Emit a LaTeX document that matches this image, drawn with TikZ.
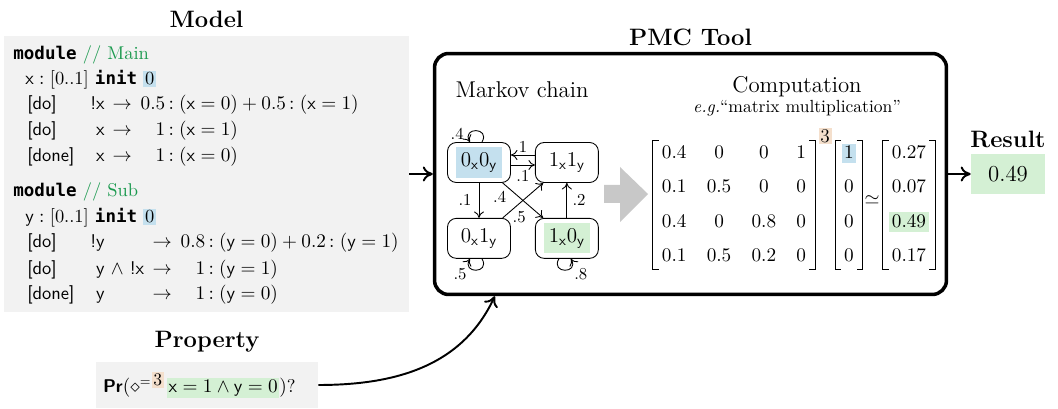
\documentclass[tikz,border=0pt]{standalone}
\usepackage{amsmath,amssymb}
\usepackage{fontspec}
\setmonofont[Scale=0.95]{DejaVu Sans Mono}
\usetikzlibrary{arrows.meta,positioning,matrix,calc}
\definecolor{codegray}{HTML}{F2F2F2}
\definecolor{hlblue}{HTML}{C4E0EE}
\definecolor{hlgreen}{HTML}{D4F0D4}
\definecolor{hlpeach}{HTML}{F4DFCC}
\definecolor{commentgreen}{HTML}{1B9A4F}
\definecolor{arrowgray}{HTML}{C8C8C8}
\newcommand\kw[1]{\texttt{\bfseries #1}}
\newcommand\cmt[1]{{\color{commentgreen}// #1}}
\newcommand\hl[3][1pt]{{\setlength\fboxsep{#1}\colorbox{#2}{#3}}}
\newcommand\mbrackets[1]{%
  \draw[bracket] ([shift={(0,3)}]#1.north west) -- ([shift={(-6,3)}]#1.north west)
    -- ([shift={(-6,-3)}]#1.south west) -- ([shift={(0,-3)}]#1.south west);
  \draw[bracket] ([shift={(0,3)}]#1.north east) -- ([shift={(6,3)}]#1.north east)
    -- ([shift={(6,-3)}]#1.south east) -- ([shift={(0,-3)}]#1.south east);}

\begin{document}
\begin{tikzpicture}[
  x=0.02cm, y=0.02cm,
  font=\fontsize{10.5}{12.6}\selectfont,
  heading/.style={font=\fontsize{13.5}{16}\selectfont\bfseries},
  codebox/.style={fill=codegray, inner sep=0pt},
  codeline/.style={anchor=base west, inner sep=0pt},
  mcstate/.style={draw, rounded corners=5pt, line width=0.5pt,
    minimum width=1.26cm, minimum height=0.8cm, inner sep=1pt,
    font=\fontsize{12}{14}\selectfont},
  prob/.style={font=\fontsize{9.5}{11}\selectfont, inner sep=1pt},
  mcarrow/.style={-{Computer Modern Rightarrow[length=1.3mm,width=2mm]}, line width=0.5pt},
  arrow/.style={-{Computer Modern Rightarrow[length=2mm,width=3mm]}, line width=1.1pt},
  cell/.style={text height=1.6ex, text depth=0.25ex, inner sep=1.5pt},
  mat/.style={matrix of math nodes, nodes={cell}, inner sep=0pt, row sep=0.3cm},
  bracket/.style={line width=0.6pt}
]
\useasboundingbox (0,0) rectangle (1058,409);

\node[codebox, minimum width=8.1cm, minimum height=5.52cm] (model) at (206.5,235) {};
\node[heading, above=0.04cm of model] (modelt) {Model};

\node[codeline] (ma) at (13,349) {\kw{module} \cmt{Main}};
\node[codeline] (mb) at (25,324) {\textsf{x}$\;{:}\;$[0..1] \kw{init} \hl{hlblue}{0}};
\node[codeline] (mc) at (27,299) {\makebox[1.26cm][l]{\textsf{[do]}}\makebox[0.4cm][l]{\textsf{!x}}\makebox[0.48cm]{$\rightarrow$}\makebox[0.62cm][r]{$0.5$}$\,{:}\;(\mathsf{x}=0)+0.5\,{:}\;(\mathsf{x}=1)$};
\node[codeline] (md) at (27,273) {\makebox[1.26cm][l]{\textsf{[do]}}\makebox[0.4cm][l]{\textsf{\phantom{!}x}}\makebox[0.48cm]{$\rightarrow$}\makebox[0.62cm][r]{$1$}$\,{:}\;(\mathsf{x}=1)$};
\node[codeline] (me) at (27,247) {\makebox[1.26cm][l]{\textsf{[done]}}\makebox[0.4cm][l]{\textsf{\phantom{!}x}}\makebox[0.48cm]{$\rightarrow$}\makebox[0.62cm][r]{$1$}$\,{:}\;(\mathsf{x}=0)$};

\node[codeline] (sa) at (13,212) {\kw{module} \cmt{Sub}};
\node[codeline] (sb) at (25,186) {\textsf{y}$\;{:}\;$[0..1] \kw{init} \hl{hlblue}{0}};
\node[codeline] (sc) at (27,161) {\makebox[1.26cm][l]{\textsf{[do]}}\makebox[1.12cm][l]{\textsf{!y}}\makebox[0.64cm]{$\rightarrow$}\makebox[0.54cm][r]{$0.8$}$\,{:}\;(\mathsf{y}=0)+0.2\,{:}\;(\mathsf{y}=1)$};
\node[codeline] (sd) at (27,134) {\makebox[1.26cm][l]{\textsf{[do]}}\makebox[1.12cm][l]{\textsf{\phantom{!}y} $\wedge$ \textsf{!x}}\makebox[0.64cm]{$\rightarrow$}\makebox[0.54cm][r]{$1$}$\,{:}\;(\mathsf{y}=1)$};
\node[codeline] (se) at (27,109) {\makebox[1.26cm][l]{\textsf{[done]}}\makebox[1.12cm][l]{\textsf{\phantom{!}y}}\makebox[0.64cm]{$\rightarrow$}\makebox[0.54cm][r]{$1$}$\,{:}\;(\mathsf{y}=0)$};

\node[codebox, minimum width=4.44cm, minimum height=0.92cm, inner xsep=0.14cm,
  text width=4.16cm, align=left] (prop) at (207,24)
  {{\sffamily\bfseries Pr}$(\diamond^{=}$\raisebox{4pt}{\hl{hlpeach}{\fontsize{10}{12}\selectfont 3}}\,\hl{hlgreen}{$\mathsf{x}=1\wedge\mathsf{y}=0$}$)$?};
\node[heading, above=0.06cm of prop] (propt) {Property};

\node[draw, line width=2pt, rounded corners=8pt, minimum width=10.24cm,
  minimum height=4.82cm] (pmc) at (690.5,235) {};
\node[heading, above=0pt of pmc] (pmct) {PMC Tool};

\node[font=\fontsize{13}{15}\selectfont] (mct) at (522,319) {Markov chain};
\node[mcstate] (s00) at (479,246.5) {\hl[3pt]{hlblue}{$0_{\mathsf{x}}0_{\mathsf{y}}$}};
\node[mcstate, right=0.48cm of s00] (s11) {$1_{\mathsf{x}}1_{\mathsf{y}}$};
\node[mcstate, below=0.7cm of s00] (s01) {$0_{\mathsf{x}}1_{\mathsf{y}}$};
\node[mcstate, right=0.48cm of s01] (s10) {\hl[3pt]{hlgreen}{$1_{\mathsf{x}}0_{\mathsf{y}}$}};

\draw[mcarrow] ([xshift=0.06cm]s00.north) to[out=60, in=120, distance=0.35cm]
  node[prob, pos=0.75, left=2pt] (p00) {.4} ([xshift=-0.18cm]s00.north);
\draw[mcarrow] ([yshift=0.15cm]s11.west) -- ([yshift=0.15cm]s11.west -| s00.east)
  node[prob, midway, above] (p1100) {1};
\draw[mcarrow] ([yshift=-0.05cm]s00.east) -- ([yshift=-0.05cm]s00.east -| s11.west)
  node[prob, midway, below=2pt] (p0011) {.1};
\draw[mcarrow] (s00) -- (s01) node[prob, midway, left=3pt] (p0001) {.1};
\draw[mcarrow] (s00) -- (s10) node[prob, pos=0.4, left=6pt] (p0010) {.4};
\draw[mcarrow] (s01) -- (s11) node[prob, pos=0.02, right=4pt] (p0111) {.5};
\draw[mcarrow] (s10) -- (s11) node[prob, midway, right=2pt] (p1011) {.2};
\draw[mcarrow] ([xshift=0.06cm]s01.south) to[out=-60, in=-120, distance=0.35cm]
  node[prob, pos=0.8, below left=0pt] (p01) {.5} ([xshift=-0.18cm]s01.south);
\draw[mcarrow] ([xshift=-0.16cm]s10.south) to[out=-120, in=-60, distance=0.35cm]
  node[prob, pos=0.8, below right=0pt] (p10) {.8} ([xshift=0.08cm]s10.south);

\fill[arrowgray] (604,224) -- (620,224) -- (620,242) -- (648,215) -- (620,187)
  -- (620,206) -- (604,206) -- cycle;

\node[font=\fontsize{13}{15}\selectfont] (compt) at (797,322) {Computation};
\node[font=\fontsize{10}{12}\selectfont] (comps) at (797,301)
  {\textit{e.g.}``matrix multiplication''};

\matrix (trans) [mat, column sep=0.3cm] at (734,204) {
  0.4 & 0   & 0   & 1 \\
  0.1 & 0.5 & 0   & 0 \\
  0.4 & 0   & 0.8 & 0 \\
  0.1 & 0.5 & 0.2 & 0 \\
};
\matrix (vec) [mat] at (849,204) {
  |[fill=hlblue]| 1 \\ 0 \\ 0 \\ 0 \\
};
\matrix (resv) [mat] at (909,204) {
  0.27 \\ 0.07 \\ |[fill=hlgreen]| 0.49 \\ 0.17 \\
};
\mbrackets{trans}
\mbrackets{vec}
\mbrackets{resv}
\node[fill=hlpeach, inner sep=1pt, font=\fontsize{11}{13}\selectfont] (pw) at (825,273) {3};
\node (approx) at (872,209) {$\simeq$};

\node[fill=hlgreen, minimum width=1.48cm, minimum height=0.8cm,
  font=\fontsize{13}{15}\selectfont] (result) at (1008,235) {0.49};
\node[heading, above=0pt of result] (resultt) {Result};

\coordinate (pin) at ($(pmc.south west)+(62,0)$);
\draw[arrow] (model.east) -- (pmc.west);
\draw[arrow] (pmc.east) -- (result.west);
\draw[arrow] (prop.east) to[out=0, in=-115] (pin);
\end{tikzpicture}
\end{document}
